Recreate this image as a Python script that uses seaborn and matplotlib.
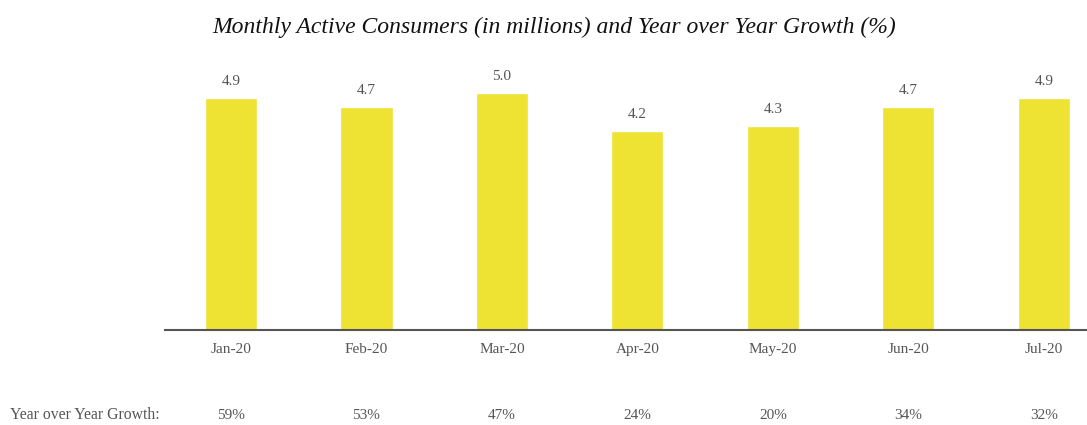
import pandas as pd
import numpy as np
import matplotlib.pyplot as plt
import matplotlib.transforms as mtransforms
import seaborn as sns

# Datos
meses = ['Jan-20', 'Feb-20', 'Mar-20', 'Apr-20', 'May-20', 'Jun-20', 'Jul-20']
consumidores = [4.9, 4.7, 5.0, 4.2, 4.3, 4.7, 4.9]
crecimiento = ['59%', '53%', '47%', '24%', '20%', '34%', '32%']

df = pd.DataFrame({'mes': meses, 'consumidores': consumidores})

sns.set_style('white')
plt.rcParams['font.family'] = ['Liberation Serif', 'DejaVu Serif']

fig = plt.figure(figsize=(10.87, 4.25), dpi=100)
ax = fig.add_axes([0.1518, 0.2235, 0.848, 0.635])

sns.barplot(data=df, x='mes', y='consumidores', color='#EEE233', saturation=1,
            width=0.385, ax=ax)

ax.set_xlim(-0.487, 6.317)
ax.set_ylim(0, 5.70)

# Etiquetas de valor
for i, v in enumerate(consumidores):
    ax.text(i, v + 0.22, f'{v:.1f}', ha='center', va='bottom', fontsize=11, color='#555555')

# Ejes
for s in ['top', 'right', 'left']:
    ax.spines[s].set_visible(False)
ax.spines['bottom'].set_color('#555555')
ax.spines['bottom'].set_linewidth(1.5)
ax.set_yticks([])
ax.set_xlabel('')
ax.set_ylabel('')
ax.tick_params(axis='x', length=0, labelsize=11, labelcolor='#555555', pad=9)

# Fila de crecimiento
trans = mtransforms.blended_transform_factory(ax.transData, fig.transFigure)
for i, g in enumerate(crecimiento):
    ax.text(i, 0.013, g, ha='center', va='baseline', fontsize=11, color='#555555', transform=trans)
fig.text(0.009, 0.013, 'Year over Year Growth:', ha='left', va='baseline', fontsize=11.3, color='#555555')

fig.text(0.51, 0.935, 'Monthly Active Consumers (in millions) and Year over Year Growth (%)',
         ha='center', va='center', fontsize=17, style='italic', color='#111111')

fig.savefig('out.png', dpi=100)
